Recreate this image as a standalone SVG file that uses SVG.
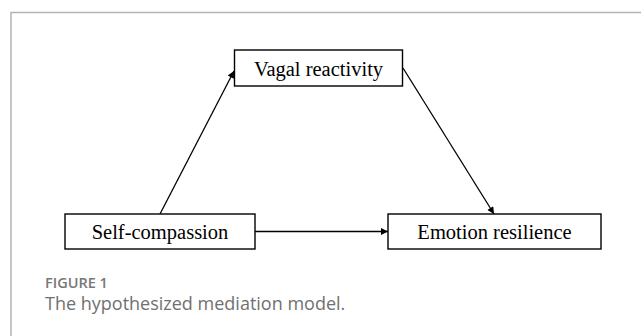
<svg xmlns="http://www.w3.org/2000/svg" width="641" height="336" viewBox="0 0 641 336">
  <defs>
    <marker id="arrow" viewBox="0 0 10 10" refX="10" refY="5" markerWidth="9" markerHeight="7" markerUnits="userSpaceOnUse" orient="auto">
      <path d="M0,0 L10,5 L0,10 Z" fill="#000"/>
    </marker>
    <style>
      .box { fill: #fff; stroke: #000; stroke-width: 1.4; }
      .lbl { font-family: "Liberation Serif", "Times New Roman", serif; font-size: 20.5px; fill: #000; text-anchor: middle; }
      .edge { stroke: #000; stroke-width: 1.3; fill: none; marker-end: url(#arrow); }
      .frame { stroke: #b3b3b3; stroke-width: 1.5; fill: none; }
      .fig { font-family: "Open Sans", "Noto Sans", sans-serif; font-size: 14.5px; font-weight: 600; fill: #777; }
      .cap { font-family: "Open Sans", "Noto Sans", sans-serif; font-size: 18px; fill: #707070; }
    </style>
  </defs>
  <rect width="641" height="336" fill="#fff"/>
  <path class="frame" d="M11,336 L11,12.5 L641,12.5"/>

  <g id="connectors">
    <line class="edge" x1="160" y1="214" x2="234" y2="71"/>
    <line class="edge" x1="403" y1="68" x2="494" y2="214"/>
    <line class="edge" x1="255" y1="231.5" x2="388" y2="231.5"/>
  </g>

  <g id="vagal">
    <rect class="box" x="234.5" y="50" width="168" height="36"/>
    <text class="lbl" x="318.5" y="75.5">Vagal reactivity</text>
  </g>
  <g id="self">
    <rect class="box" x="65" y="214" width="190" height="35"/>
    <text class="lbl" x="160" y="239">Self-compassion</text>
  </g>
  <g id="emotion">
    <rect class="box" x="388" y="214" width="213" height="35"/>
    <text class="lbl" x="494.5" y="239">Emotion resilience</text>
  </g>

  <g id="caption">
    <text class="fig" x="45" y="288">FIGURE 1</text>
    <text class="cap" x="45" y="310">The hypothesized mediation model.</text>
  </g>
</svg>
